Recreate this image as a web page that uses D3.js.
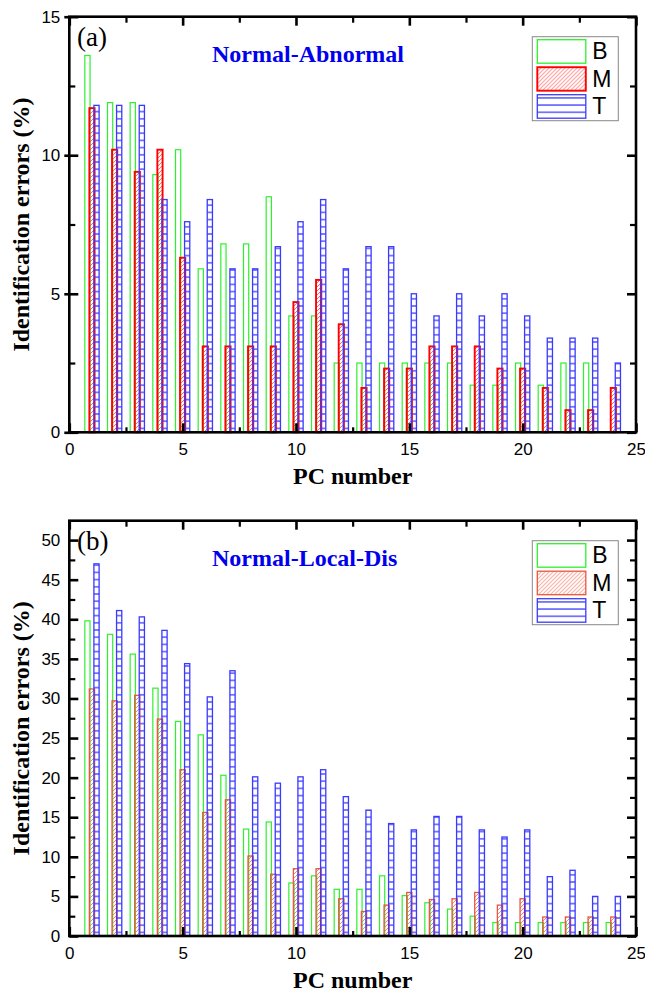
<!DOCTYPE html>
<html lang="en">
  <head>
    <meta charset="utf-8" />
    <title>Identification errors vs PC number</title>
    <style>
      body {
        margin: 0;
        background: #fff;
      }
      svg {
        display: block;
      }
    </style>
  </head>
  <body>
    <div class="container"></div>
    <script src="https://cdn.jsdelivr.net/npm/d3@7"></script>
    <script>
      // PC numbers and errors (%)
      const pcNumbers = [1, 2, 3, 4, 5, 6, 7, 8, 9, 10, 11, 12, 13, 14, 15, 16, 17, 18, 19, 20, 21, 22, 23, 24];
      const seriesNames = ['B', 'M', 'T'];

      // (a) Normal-Abnormal
      const abnB = [13.6, 11.9, 11.9, 9.3, 10.2, 5.9, 6.8, 6.8, 8.5, 4.2, 4.2, 2.5, 2.5, 2.5, 2.5, 2.5, 2.5, 1.7, 1.7, 2.5, 1.7, 2.5, 2.5, 0];
      const abnM = [11.7, 10.2, 9.4, 10.2, 6.3, 3.1, 3.1, 3.1, 3.1, 4.7, 5.5, 3.9, 1.6, 2.3, 2.3, 3.1, 3.1, 3.1, 2.3, 2.3, 1.6, 0.8, 0.8, 1.6];
      const abnT = [11.8, 11.8, 11.8, 8.4, 7.6, 8.4, 5.9, 5.9, 6.7, 7.6, 8.4, 5.9, 6.7, 6.7, 5.0, 4.2, 5.0, 4.2, 5.0, 4.2, 3.4, 3.4, 3.4, 2.5];

      // (b) Normal-Local-Dis
      const locB = [39.8, 38.1, 35.6, 31.3, 27.1, 25.4, 20.3, 13.5, 14.4, 6.7, 7.6, 5.9, 5.9, 7.6, 5.1, 4.2, 3.4, 2.5, 1.7, 1.7, 1.7, 1.7, 1.7, 1.7];
      const locM = [31.2, 29.7, 30.4, 27.4, 21.0, 15.6, 17.2, 10.1, 7.8, 8.5, 8.5, 4.7, 3.1, 3.9, 5.5, 4.6, 4.7, 5.5, 3.9, 4.7, 2.4, 2.4, 2.4, 2.4];
      const locT = [47.0, 41.1, 40.3, 38.6, 34.4, 30.2, 33.5, 20.1, 19.3, 20.1, 21.0, 17.6, 15.9, 14.2, 13.4, 15.1, 15.1, 13.4, 12.5, 13.4, 7.5, 8.3, 5.0, 5.0];

      const xMajor = [0, 5, 10, 15, 20, 25];
      const xMinor = [2.5, 7.5, 12.5, 17.5, 22.5];
      const abnYMajor = [0, 5, 10, 15];
      const abnYMinor = [2.5, 7.5, 12.5];
      const locYMajor = [0, 5, 10, 15, 20, 25, 30, 35, 40, 45, 50];
      const locYMinor = [2.5, 7.5, 12.5, 17.5, 22.5, 27.5, 32.5, 37.5, 42.5, 47.5];

      const width = 645;
      const height = 995;
      const left = 69.3;
      const right = 636;

      const svg = d3
        .select('div.container')
        .append('svg')
        .attr('width', width)
        .attr('height', height);

      const defs = svg.append('defs');

      function hatch(id, color) {
        const p = defs
          .append('pattern')
          .attr('id', id)
          .attr('patternUnits', 'userSpaceOnUse')
          .attr('width', 4)
          .attr('height', 4);
        p.append('path')
          .attr('d', 'M-1,1 l2,-2 M0,4 l4,-4 M3,5 l2,-2')
          .attr('stroke', color)
          .attr('stroke-width', 0.9);
      }
      function rungs(id, color) {
        const p = defs
          .append('pattern')
          .attr('id', id)
          .attr('patternUnits', 'userSpaceOnUse')
          .attr('width', 4)
          .attr('height', 7.2);
        p.append('line')
          .attr('x1', 0)
          .attr('x2', 4)
          .attr('y1', 3.6)
          .attr('y2', 3.6)
          .attr('stroke', color)
          .attr('stroke-width', 1.3);
      }
      hatch('hatchA', '#ff5a5a');
      hatch('hatchB', '#f27b68');
      rungs('rungs', '#3c3cff');

      function drawPanel(cfg) {
        const g = svg.append('g');
        const x = d3.scaleLinear().domain([0, 25]).range([left, right]);
        const y = d3
          .scaleLinear()
          .domain([0, cfg.yMax])
          .range([cfg.bottom, cfg.top]);

        const styles = {
          B: { fill: 'none', stroke: '#2ef02e', sw: 1.2 },
          M: { fill: `url(#${cfg.hatch})`, stroke: cfg.red, sw: cfg.redWidth },
          T: { fill: 'url(#rungs)', stroke: '#3a3aff', sw: 1.3 },
        };
        const offsets = { B: -0.2, M: 0, T: 0.2 };
        const barW = 0.23;

        seriesNames.forEach((name) => {
          const st = styles[name];
          g.append('g')
            .selectAll('rect')
            .data(pcNumbers.map((pc, i) => ({ pc, v: cfg.values[name][i] })))
            .join('rect')
            .filter((d) => d.v > 0)
            .attr('x', (d) => x(d.pc + offsets[name] - barW / 2))
            .attr('width', x(barW) - x(0))
            .attr('y', (d) => y(d.v))
            .attr('height', (d) => y(0) - y(d.v))
            .attr('fill', st.fill)
            .attr('stroke', st.stroke)
            .attr('stroke-width', st.sw);
        });

        // frame
        g.append('rect')
          .attr('x', left)
          .attr('y', cfg.top)
          .attr('width', right - left)
          .attr('height', cfg.bottom - cfg.top)
          .attr('fill', 'none')
          .attr('stroke', '#000')
          .attr('stroke-width', 2.6);

        // ticks (all pointing in)
        const tickFont = (sel) =>
          sel
            .attr('font-family', '"Liberation Sans", Arial, sans-serif')
            .attr('font-size', 17)
            .call((s) => s.select('.domain').remove())
            .call((s) => s.selectAll('text').attr('fill', '#000'));

        g.append('g')
          .attr('transform', `translate(0,${cfg.bottom})`)
          .call(d3.axisBottom(x).tickValues(xMajor).tickSize(-9).tickPadding(11))
          .call(tickFont)
          .call((s) => s.selectAll('line').attr('stroke-width', 2.6));
        g.append('g')
          .attr('transform', `translate(0,${cfg.bottom})`)
          .call(d3.axisBottom(x).tickValues(xMinor).tickSize(-5).tickFormat(''))
          .call(tickFont)
          .call((s) => s.selectAll('line').attr('stroke-width', 2.2));
        g.append('g')
          .attr('transform', `translate(0,${cfg.top})`)
          .call(d3.axisTop(x).tickValues(xMajor).tickSize(-9).tickFormat(''))
          .call(tickFont)
          .call((s) => s.selectAll('line').attr('stroke-width', 2.6));
        g.append('g')
          .attr('transform', `translate(0,${cfg.top})`)
          .call(d3.axisTop(x).tickValues(xMinor).tickSize(-6).tickFormat(''))
          .call(tickFont)
          .call((s) => s.selectAll('line').attr('stroke-width', 2.2));

        const yl = g
          .append('g')
          .attr('transform', `translate(${left},0)`)
          .call(d3.axisLeft(y).tickValues(cfg.yMajor).tickSize(-9).tickPadding(9))
          .call(tickFont)
          .call((s) => s.selectAll('line').attr('stroke-width', 2.6));
        if (cfg.outTicks) yl.selectAll('line').attr('x1', -5);
        g.append('g')
          .attr('transform', `translate(${left},0)`)
          .call(d3.axisLeft(y).tickValues(cfg.yMinor).tickSize(-6).tickFormat(''))
          .call(tickFont)
          .call((s) => s.selectAll('line').attr('stroke-width', 2.2));
        g.append('g')
          .attr('transform', `translate(${right},0)`)
          .call(d3.axisRight(y).tickValues(cfg.yMajor).tickSize(-9).tickFormat(''))
          .call(tickFont)
          .call((s) => s.selectAll('line').attr('stroke-width', 2.6));
        g.append('g')
          .attr('transform', `translate(${right},0)`)
          .call(d3.axisRight(y).tickValues(cfg.yMinor).tickSize(-6).tickFormat(''))
          .call(tickFont)
          .call((s) => s.selectAll('line').attr('stroke-width', 2.2));

        // axis titles
        g.append('text')
          .attr('x', (left + right) / 2)
          .attr('y', cfg.bottom + 52)
          .attr('text-anchor', 'middle')
          .attr('font-family', '"Liberation Serif", "Times New Roman", serif')
          .attr('font-weight', 'bold')
          .attr('font-size', 24)
          .text('PC number');
        g.append('text')
          .attr(
            'transform',
            `translate(29,${(cfg.top + cfg.bottom) / 2}) rotate(-90)`,
          )
          .attr('text-anchor', 'middle')
          .attr('font-family', '"Liberation Serif", "Times New Roman", serif')
          .attr('font-weight', 'bold')
          .attr('font-size', 24)
          .text('Identification errors (%)');

        // panel letter and title
        g.append('text')
          .attr('x', 77)
          .attr('y', cfg.top + 29)
          .attr('font-family', '"Liberation Serif", "Times New Roman", serif')
          .attr('font-size', 27)
          .text(cfg.letter);
        g.append('text')
          .attr('x', 212)
          .attr('y', cfg.top + 45.5)
          .attr('font-family', '"Liberation Serif", "Times New Roman", serif')
          .attr('font-weight', 'bold')
          .attr('font-size', 24)
          .attr('fill', '#0000ee')
          .text(cfg.title);

        // legend
        const lg = g
          .append('g')
          .attr('transform', `translate(532.3,${cfg.top + 20})`);
        lg.append('rect')
          .attr('width', 86)
          .attr('height', 84)
          .attr('fill', '#fff')
          .attr('stroke', '#888')
          .attr('stroke-width', 1);
        seriesNames.forEach((name, i) => {
          const st = styles[name];
          const sy = 3 + i * 27.5;
          lg.append('rect')
            .attr('x', 5)
            .attr('y', sy)
            .attr('width', 48.5)
            .attr('height', 23.5)
            .attr('fill', name === 'B' ? '#fff' : st.fill)
            .attr('stroke', st.stroke)
            .attr('stroke-width', name === 'M' ? cfg.redWidth : 1.3);
          lg.append('text')
            .attr('x', 60)
            .attr('y', sy + 19.5)
            .attr('font-family', '"Liberation Sans", Arial, sans-serif')
            .attr('font-size', 23)
            .text(name);
        });
      }

      drawPanel({
        top: 16.7,
        bottom: 432.3,
        yMax: 15,
        yMajor: abnYMajor,
        yMinor: abnYMinor,
        outTicks: true,
        values: { B: abnB, M: abnM, T: abnT },
        hatch: 'hatchA',
        red: '#ff0000',
        redWidth: 1.9,
        letter: '(a)',
        title: 'Normal-Abnormal',
      });
      drawPanel({
        top: 520.7,
        bottom: 936,
        yMax: 52.45,
        yMajor: locYMajor,
        yMinor: locYMinor,
        outTicks: false,
        values: { B: locB, M: locM, T: locT },
        hatch: 'hatchB',
        red: '#e8573f',
        redWidth: 1.3,
        letter: '(b)',
        title: 'Normal-Local-Dis',
      });
    </script>
  </body>
</html>
